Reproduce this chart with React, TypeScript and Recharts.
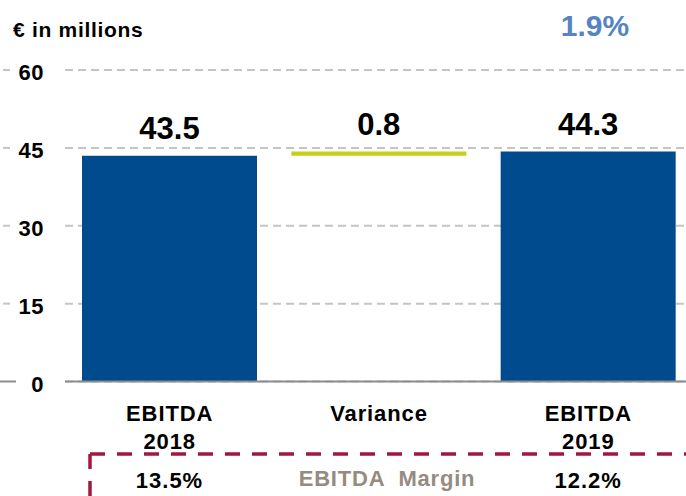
import React from "react";
import { ComposedChart, Bar, XAxis, YAxis, CartesianGrid, Cell, LabelList } from "recharts";

const categories = ["EBITDA|2018", "Variance", "EBITDA|2019"];
const values = [43.5, 0.8, 44.3];
const bases = [0, 43.5, 0];
const valueLabels = ["43.5", "0.8", "44.3"];
const margins = ["13.5%", "", "12.2%"];
const yTicks = [0, 15, 30, 45, 60];
const barColors = ["#004b8d", "#c5d01c", "#004b8d"];

const data = categories.map((c, i) => ({
  name: c,
  base: bases[i],
  value: values[i],
  label: valueLabels[i],
  margin: margins[i],
}));

const FONT = "'Liberation Sans', Arial, sans-serif";

const YTick = (props: any) => {
  const { y, payload } = props;
  const isZero = payload.value === 0;
  return (
    <g>
      <line
        x1={isZero ? 0 : 3}
        x2={isZero ? 16 : 10}
        y1={y}
        y2={y}
        stroke={isZero ? "#8c8c8c" : "#c4c4c4"}
        strokeWidth={2}
      />
      <text x={44} y={y} dy={10} textAnchor="end" fontFamily={FONT} fontWeight="bold" fontSize={22} letterSpacing={0.5} fill="#000">
        {payload.value}
      </text>
    </g>
  );
};

const XTick = (props: any) => {
  const { x, y, payload } = props;
  const lines = String(payload.value).split("|");
  return (
    <g>
      {lines.map((l, i) => (
        <text key={i} x={x} y={y + 31 + i * 28} textAnchor="middle" fontFamily={FONT} fontWeight="bold" fontSize={22} letterSpacing={0.9} fill="#000">
          {l}
        </text>
      ))}
    </g>
  );
};

const TopLabel = (props: any) => {
  const { x, y, width, value } = props;
  return (
    <text x={x + width / 2} y={y - 17} textAnchor="middle" fontFamily={FONT} fontWeight="bold" fontSize={31} fill="#000">
      {value}
    </text>
  );
};

const MarginLabel = (props: any) => {
  const { x, width, value } = props;
  if (!value) return null;
  return (
    <text x={x + width / 2} y={488} textAnchor="middle" fontFamily={FONT} fontWeight="bold" fontSize={22} letterSpacing={1} fill="#000">
      {value}
    </text>
  );
};

export default function App() {
  return (
    <div style={{ position: "absolute", left: 0, top: 0, width: 686, height: 496, overflow: "hidden", background: "#fff" }}>
      <ComposedChart width={693} height={496} data={data} margin={{ top: 70, right: 0, left: 0, bottom: 0 }}>
        <CartesianGrid vertical={false} stroke="#c4c4c4" strokeWidth={2} strokeDasharray="8 5" />
        <YAxis
          domain={[0, 60]}
          ticks={yTicks}
          width={65}
          axisLine={false}
          tickLine={false}
          tick={<YTick />}
          interval={0}
        />
        <XAxis
          dataKey="name"
          height={114.5}
          axisLine={{ stroke: "#8c8c8c", strokeWidth: 2 }}
          tickLine={false}
          tick={<XTick />}
          interval={0}
        />
        <Bar dataKey="base" stackId="a" fill="transparent" isAnimationActive={false} barSize={175} />
        <Bar dataKey="value" stackId="a" isAnimationActive={false} barSize={175}>
          {data.map((d, i) => (
            <Cell key={i} fill={barColors[i]} />
          ))}
          <LabelList dataKey="label" content={<TopLabel />} />
          <LabelList dataKey="margin" content={<MarginLabel />} />
        </Bar>
      </ComposedChart>
      <svg width={686} height={496} style={{ position: "absolute", left: 0, top: 0, pointerEvents: "none" }}>
        <text x={13} y={37} fontFamily={FONT} fontWeight="bold" fontSize={21} letterSpacing={0.7} fill="#000">
          € in millions
        </text>
        <text x={595} y={36} textAnchor="middle" fontFamily={FONT} fontWeight="bold" fontSize={30} fill="#5584c4">
          1.9%
        </text>
        <line x1={90} x2={686} y1={454} y2={454} stroke="#a3173e" strokeWidth={3.5} strokeDasharray="15 12" />
        <line x1={90} x2={90} y1={454} y2={496} stroke="#a3173e" strokeWidth={3.5} strokeDasharray="15 12" />
        <text x={387} y={486} textAnchor="middle" fontFamily={FONT} fontWeight="bold" fontSize={22} letterSpacing={0.8} fill="#968b80" style={{ whiteSpace: "pre" }}>
          EBITDA  Margin
        </text>
      </svg>
    </div>
  );
}
